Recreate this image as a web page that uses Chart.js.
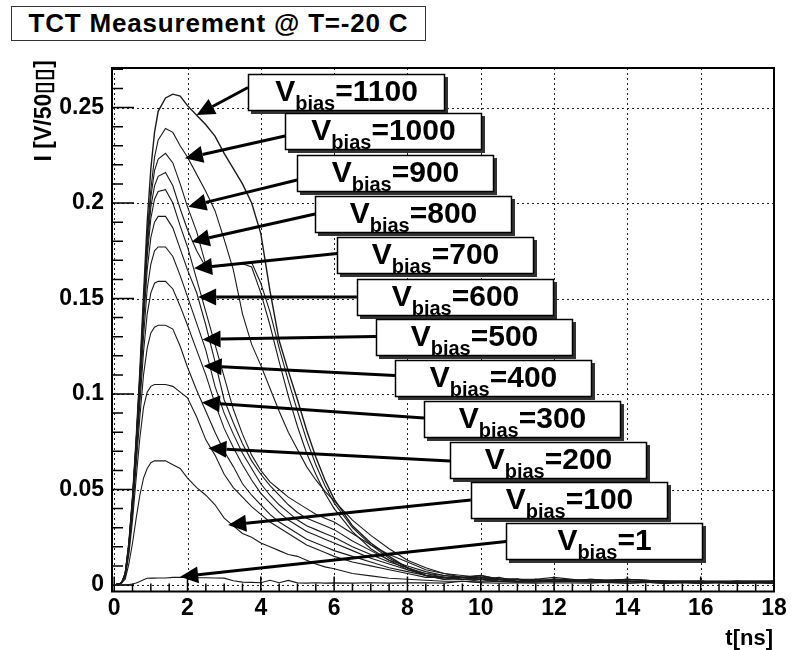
<!DOCTYPE html>
<html>
<head>
<meta charset="utf-8">
<script src="https://cdn.jsdelivr.net/npm/chart.js@4.4.1/dist/chart.umd.min.js"></script>
<style>
  body { margin: 0; background: #fff; }
  #wrap { position: relative; width: 792px; height: 650px; }
  #title {
    position: absolute; left: 11px; top: 6px; width: 413px; height: 33px;
    border: 1.5px solid #333; background: #fff;
    font: bold 26px 'Liberation Sans', Arial, sans-serif; letter-spacing: 0.8px;
    line-height: 33px; text-align: center; color: #000;
  }
</style>
</head>
<body>
<div id="wrap">
  <canvas id="c" width="792" height="650"></canvas>
  <div id="title">TCT Measurement @ T=-20 C</div>
</div>
<script>
// time axis [ns], shared by all pulses
const T = [0, 0.2, 0.3, 0.4, 0.5, 0.6, 0.7, 0.8, 0.9, 1.0, 1.1, 1.2,
  1.4, 1.6, 1.8, 2.0,
  2.25, 2.5, 2.75, 3.0, 3.25, 3.5, 3.75, 4.0, 4.25, 4.5, 4.75, 5.0, 5.25, 5.5, 5.75, 6.0,
  6.5, 7.0, 7.5, 8.0, 8.5, 9.0, 9.5, 10, 10.5, 11, 11.5, 12,
  13, 14, 15, 16, 17, 18];

// current I [V/50 ohm] per bias voltage
const V1100 = [0, 0.001, 0.006, 0.022, 0.046, 0.077, 0.112, 0.152, 0.19, 0.218, 0.237, 0.248,
  0.255, 0.257, 0.256, 0.251,
  0.246, 0.241, 0.235, 0.226, 0.218, 0.21, 0.2, 0.184, 0.154, 0.128, 0.112, 0.097, 0.081, 0.067, 0.055, 0.045,
  0.031, 0.022, 0.015, 0.009, 0.005, 0.003, 0.004, 0.005, 0.003, 0.003, 0.002, 0.003,
  0.002, 0.002, 0.002, 0.001, 0.002, 0.002];
const V1000 = [0, 0.001, 0.006, 0.022, 0.046, 0.076, 0.11, 0.148, 0.184, 0.207, 0.224, 0.233,
  0.239, 0.237, 0.23, 0.224,
  0.215, 0.206, 0.196, 0.181, 0.165, 0.142, 0.126, 0.115, 0.103, 0.091, 0.08, 0.071, 0.062, 0.055, 0.049, 0.044,
  0.034, 0.026, 0.019, 0.013, 0.009, 0.006, 0.004, 0.005, 0.003, 0.003, 0.003, 0.004,
  0.002, 0.003, 0.002, 0.002, 0.001, 0.002];
const V900 = [0, 0.001, 0.006, 0.021, 0.045, 0.075, 0.109, 0.146, 0.18, 0.203, 0.217, 0.223,
  0.226, 0.221, 0.21, 0.198,
  0.185, 0.1675, 0.167, 0.1675, 0.168, 0.1685, 0.1688, 0.158, 0.143, 0.124, 0.107, 0.091, 0.076, 0.063, 0.052, 0.043,
  0.03, 0.021, 0.014, 0.009, 0.005, 0.004, 0.003, 0.003, 0.004, 0.002, 0.003, 0.002,
  0.003, 0.002, 0.001, 0.002, 0.002, 0.001];
const V800 = [0, 0.001, 0.006, 0.021, 0.045, 0.075, 0.108, 0.144, 0.176, 0.198, 0.209, 0.214,
  0.216, 0.209, 0.197, 0.186,
  0.175, 0.1664, 0.1668, 0.1672, 0.1678, 0.1682, 0.1665, 0.153, 0.136, 0.117, 0.099, 0.083, 0.069, 0.058, 0.048, 0.04,
  0.028, 0.019, 0.013, 0.008, 0.005, 0.003, 0.003, 0.004, 0.002, 0.003, 0.002, 0.002,
  0.002, 0.003, 0.002, 0.002, 0.001, 0.002];
const V700 = [0, 0.001, 0.006, 0.021, 0.044, 0.074, 0.107, 0.142, 0.172, 0.192, 0.202, 0.206,
  0.207, 0.2, 0.188, 0.177,
  0.16, 0.143, 0.126, 0.109, 0.092, 0.079, 0.068, 0.06, 0.054, 0.05, 0.046, 0.043, 0.04, 0.037, 0.035, 0.033,
  0.027, 0.021, 0.016, 0.012, 0.008, 0.006, 0.005, 0.004, 0.003, 0.003, 0.002, 0.003,
  0.002, 0.002, 0.002, 0.002, 0.001, 0.002];
const V600 = [0, 0.001, 0.005, 0.02, 0.043, 0.072, 0.104, 0.137, 0.165, 0.182, 0.19, 0.193,
  0.193, 0.187, 0.176, 0.165,
  0.153, 0.136, 0.117, 0.097, 0.085, 0.074, 0.065, 0.058, 0.052, 0.047, 0.042, 0.038, 0.035, 0.033, 0.031, 0.029,
  0.023, 0.018, 0.013, 0.01, 0.007, 0.005, 0.004, 0.004, 0.003, 0.002, 0.003, 0.002,
  0.002, 0.003, 0.002, 0.001, 0.002, 0.002];
const V500 = [0, 0.001, 0.005, 0.02, 0.042, 0.07, 0.1, 0.13, 0.155, 0.168, 0.175, 0.177,
  0.177, 0.172, 0.162, 0.151,
  0.137, 0.123, 0.104, 0.09, 0.079, 0.069, 0.061, 0.053, 0.047, 0.042, 0.038, 0.034, 0.031, 0.029, 0.027, 0.025,
  0.02, 0.016, 0.012, 0.009, 0.006, 0.005, 0.004, 0.003, 0.003, 0.003, 0.002, 0.002,
  0.003, 0.002, 0.002, 0.002, 0.002, 0.001];
const V400 = [0, 0.001, 0.005, 0.019, 0.04, 0.067, 0.095, 0.122, 0.142, 0.153, 0.158, 0.159,
  0.159, 0.155, 0.146, 0.136,
  0.123, 0.11, 0.095, 0.082, 0.072, 0.063, 0.055, 0.048, 0.043, 0.038, 0.034, 0.031, 0.028, 0.026, 0.024, 0.022,
  0.018, 0.014, 0.011, 0.008, 0.006, 0.004, 0.004, 0.003, 0.002, 0.003, 0.002, 0.002,
  0.002, 0.002, 0.001, 0.002, 0.002, 0.002];
const V300 = [0, 0.001, 0.005, 0.018, 0.038, 0.063, 0.088, 0.11, 0.124, 0.132, 0.135, 0.136,
  0.136, 0.134, 0.125, 0.114,
  0.102, 0.091, 0.08, 0.07, 0.062, 0.053, 0.047, 0.042, 0.037, 0.033, 0.03, 0.027, 0.024, 0.022, 0.02, 0.018,
  0.015, 0.012, 0.009, 0.007, 0.005, 0.004, 0.003, 0.003, 0.002, 0.002, 0.002, 0.003,
  0.002, 0.002, 0.002, 0.001, 0.002, 0.001];
const V200 = [0, 0.001, 0.004, 0.016, 0.034, 0.056, 0.077, 0.093, 0.101, 0.104, 0.105, 0.105,
  0.105, 0.104, 0.101, 0.098,
  0.088, 0.076, 0.068, 0.058, 0.051, 0.046, 0.041, 0.037, 0.033, 0.03, 0.027, 0.024, 0.021, 0.019, 0.017, 0.015,
  0.012, 0.01, 0.008, 0.006, 0.004, 0.004, 0.003, 0.002, 0.003, 0.002, 0.002, 0.002,
  0.002, 0.001, 0.002, 0.002, 0.001, 0.002];
const V100 = [0, 0.001, 0.003, 0.011, 0.022, 0.035, 0.047, 0.056, 0.061, 0.064, 0.065, 0.065,
  0.065, 0.063, 0.061, 0.056,
  0.051, 0.047, 0.042, 0.035, 0.031, 0.027, 0.025, 0.022, 0.02, 0.018, 0.016, 0.015, 0.013, 0.011, 0.0095, 0.0085,
  0.006, 0.0048, 0.0035, 0.003, 0.0025, 0.002, 0.002, 0.0015, 0.002, 0.0015, 0.0015, 0.002,
  0.0015, 0.001, 0.0015, 0.0015, 0.001, 0.0015];
const V1 = [0, 0, 0, 0.0003, 0.0005, 0.001, 0.0018, 0.0028, 0.0035, 0.0036, 0.0036, 0.0037,
  0.0037, 0.004, 0.004, 0.0039,
  0.0038, 0.0038, 0.0037, 0.0036, 0.0022, 0.0015, 0.0014, 0.0012, 0.0025, 0.0012, 0.0024, 0.0011, 0.001, 0.0012, 0.001, 0.0011,
  0.001, 0.0012, 0.001, 0.0011, 0.0012, 0.001, 0.002, 0.0012, 0.001, 0.0011, 0.001, 0.0012,
  0.001, 0.002, 0.001, 0.0011, 0.001, 0.001];

const biasLabels = ['1100', '1000', '900', '800', '700', '600', '500', '400', '300', '200', '100', '1'];
const seriesValues = [V1100, V1000, V900, V800, V700, V600, V500, V400, V300, V200, V100, V1];

const xTicks = [0, 2, 4, 6, 8, 10, 12, 14, 16, 18];
const yTicks = [0, 0.05, 0.1, 0.15, 0.2, 0.25];

// label boxes: top-left corner, arrow tail and arrow tip, in data units (t, I)
const boxAt = [[3.65, 0.2676], [4.66, 0.2471], [4.99, 0.2251], [5.48, 0.2037], [6.08, 0.1822], [6.62, 0.1602],
  [7.14, 0.1393], [7.66, 0.1178], [8.45, 0.0963], [9.16, 0.0749], [9.73, 0.0539], [10.69, 0.0325]];
const arrowFrom = [[3.65, 0.2605], [4.66, 0.2351], [4.99, 0.2121], [5.48, 0.1943], [6.08, 0.1736], [6.62, 0.1508],
  [7.14, 0.1301], [7.66, 0.1097], [8.45, 0.0874], [9.16, 0.0649], [9.73, 0.0445], [10.69, 0.0228]];
const arrowTo = [[2.25, 0.2461], [1.93, 0.2234], [2.02, 0.1981], [2.11, 0.1797], [2.18, 0.1658], [2.29, 0.1508],
  [2.41, 0.1286], [2.44, 0.1147], [2.39, 0.0955], [2.57, 0.0716], [3.11, 0.0314], [1.80, 0.0043]];

const FONT = "'Liberation Sans', Arial, Helvetica, sans-serif";
const BOX_W = 197, BOX_H = 37;

function drawArrow(ctx, x0, y0, x1, y1) {
  const a = Math.atan2(y1 - y0, x1 - x0);
  const L = 18, W = 8.5;
  const bx = x1 - L * Math.cos(a), by = y1 - L * Math.sin(a);
  ctx.lineWidth = 3;
  ctx.beginPath(); ctx.moveTo(x0, y0); ctx.lineTo(bx, by); ctx.stroke();
  ctx.beginPath();
  ctx.moveTo(x1, y1);
  ctx.lineTo(bx + W * Math.sin(a), by - W * Math.cos(a));
  ctx.lineTo(bx - W * Math.sin(a), by + W * Math.cos(a));
  ctx.closePath(); ctx.fill();
}

const rootFrame = {
  id: 'rootFrame',
  beforeDatasetsDraw(chart) {
    const { ctx, chartArea: a, scales: { x, y } } = chart;
    ctx.save();
    // dotted grid
    ctx.strokeStyle = '#222'; ctx.lineWidth = 1; ctx.setLineDash([2, 3]);
    ctx.beginPath();
    xTicks.forEach(v => { const p = Math.round(x.getPixelForValue(v)) + 0.5; ctx.moveTo(p, a.top); ctx.lineTo(p, a.bottom); });
    yTicks.forEach(v => { const p = Math.round(y.getPixelForValue(v)) + 0.5; ctx.moveTo(a.left, p); ctx.lineTo(a.right, p); });
    ctx.stroke();
    ctx.setLineDash([]);
    // inner tick marks
    ctx.strokeStyle = '#000'; ctx.lineWidth = 1.5;
    ctx.beginPath();
    for (let i = 0; i <= 27; i++) {
      const p = y.getPixelForValue(i / 100), len = i % 5 === 0 ? 22 : 11;
      ctx.moveTo(a.left, p); ctx.lineTo(a.left + len, p);
    }
    for (let i = 0; i <= 36; i++) {
      const p = x.getPixelForValue(i / 2), len = i % 4 === 0 ? 15 : 8;
      ctx.moveTo(p, a.bottom); ctx.lineTo(p, a.bottom - len);
    }
    ctx.stroke();
    ctx.restore();
  },
  afterDatasetsDraw(chart) {
    const { ctx, chartArea: a, scales: { x, y } } = chart;
    ctx.save();
    ctx.strokeStyle = '#000'; ctx.lineWidth = 2;
    ctx.strokeRect(a.left, a.top, a.right - a.left, a.bottom - a.top);

    // arrows
    ctx.fillStyle = '#000';
    biasLabels.forEach((_, i) => {
      drawArrow(ctx, x.getPixelForValue(arrowFrom[i][0]), y.getPixelForValue(arrowFrom[i][1]),
        x.getPixelForValue(arrowTo[i][0]), y.getPixelForValue(arrowTo[i][1]));
    });

    // label boxes
    biasLabels.forEach((lab, i) => {
      const bx = Math.round(x.getPixelForValue(boxAt[i][0])), by = Math.round(y.getPixelForValue(boxAt[i][1]));
      ctx.fillStyle = '#333';
      ctx.fillRect(bx + 3, by + 3, BOX_W, BOX_H);
      ctx.fillStyle = '#fff';
      ctx.fillRect(bx, by, BOX_W, BOX_H);
      ctx.lineWidth = 1.5; ctx.strokeStyle = '#000';
      ctx.strokeRect(bx + 0.5, by + 0.5, BOX_W - 1, BOX_H - 1);

      const big = 'bold 30px ' + FONT, small = 'bold 20px ' + FONT;
      ctx.font = big; const w1 = ctx.measureText('V').width, w3 = ctx.measureText('=' + lab).width;
      ctx.font = small; const w2 = ctx.measureText('bias').width;
      let tx = bx + (BOX_W - w1 - w2 - w3) / 2;
      ctx.fillStyle = '#000'; ctx.textAlign = 'left'; ctx.textBaseline = 'alphabetic';
      ctx.font = big; ctx.fillText('V', tx, by + 27); tx += w1;
      ctx.font = small; ctx.fillText('bias', tx, by + 35.5); tx += w2;
      ctx.font = big; ctx.fillText('=' + lab, tx, by + 27);
    });
    ctx.restore();
  },
  afterDraw(chart) {
    const { ctx } = chart;
    ctx.save();
    ctx.fillStyle = '#000';
    ctx.font = 'bold 23px ' + FONT;
    ctx.translate(45, 60); ctx.rotate(-Math.PI / 2);
    ctx.textAlign = 'right'; ctx.textBaseline = 'middle';
    ctx.fillText('I [V/50\u25AF\u25AF]', 0, 0);
    ctx.restore();
    ctx.save();
    ctx.fillStyle = '#000';
    ctx.font = 'bold 22px ' + FONT;
    ctx.textAlign = 'right'; ctx.textBaseline = 'alphabetic';
    ctx.fillText('t[ns]', 773, 645);
    ctx.restore();
  }
};

new Chart(document.getElementById('c'), {
  type: 'line',
  data: {
    datasets: seriesValues.map((vals, i) => ({
      label: 'Vbias=' + biasLabels[i],
      data: T.map((t, j) => ({ x: t, y: vals[j] })),
      borderColor: '#1a1a1a',
      borderWidth: i === 0 ? 1.4 : 1.1,
      pointRadius: 0,
      tension: 0
    }))
  },
  options: {
    responsive: false,
    animation: false,
    devicePixelRatio: 1,
    layout: { padding: { top: 68, right: 18, left: 0, bottom: 0 } },
    plugins: { legend: { display: false }, tooltip: { enabled: false } },
    scales: {
      x: {
        type: 'linear', min: -0.06, max: 18,
        grid: { display: false, drawTicks: false }, border: { display: false },
        afterBuildTicks: s => { s.ticks = xTicks.map(v => ({ value: v })); },
        afterFit: s => { s.height = 58.5; },
        ticks: { color: '#000', font: { family: FONT, size: 23, weight: 'bold' }, padding: 3,
          maxRotation: 0, autoSkip: false, callback: v => String(v) }
      },
      y: {
        type: 'linear', min: -0.0034, max: 0.2707,
        grid: { display: false, drawTicks: false }, border: { display: false },
        afterBuildTicks: s => { s.ticks = yTicks.map(v => ({ value: v })); },
        afterFit: s => { s.width = 112; },
        ticks: { color: '#000', font: { family: FONT, size: 23, weight: 'bold' }, padding: 8,
          autoSkip: false, callback: v => String(v) }
      }
    }
  },
  plugins: [rootFrame]
});
</script>
</body>
</html>
